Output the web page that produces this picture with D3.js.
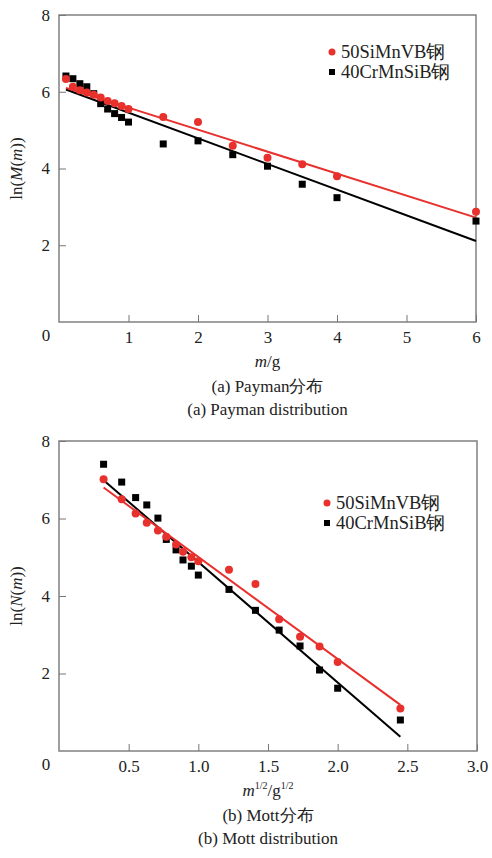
<!DOCTYPE html>
<meta charset="utf-8">
<head>
<style>
  body { margin: 0; background: #fff; }
  .axis path { display: none; }
  .axis line { stroke: #777; }
</style>
</head>
<body>
<script src="https://cdn.jsdelivr.net/npm/d3@7"></script>
<script>
// (a) Payman: mass (g) vs ln(M(m))
var massA = [0.1, 0.2, 0.3, 0.4, 0.5, 0.6, 0.7, 0.8, 0.9, 1.0, 1.5, 2.0, 2.5, 3.0, 3.5, 4.0, 6.0];
var redA = [6.33, 6.13, 6.04, 5.98, 5.92, 5.85, 5.76, 5.70, 5.63, 5.55, 5.34, 5.21, 4.59, 4.28, 4.11, 3.80, 2.87];
var blackA = [6.41, 6.34, 6.21, 6.13, 5.95, 5.69, 5.55, 5.43, 5.33, 5.21, 4.64, 4.72, 4.36, 4.06, 3.59, 3.24, 2.63];
var redFitA = [[0.1, 6.10], [6.0, 2.72]];
var blackFitA = [[0.1, 6.06], [6.0, 2.11]];

// (b) Mott: m^1/2 vs ln(N(m))
var rootB = [0.32, 0.45, 0.55, 0.63, 0.71, 0.77, 0.84, 0.89, 0.95, 1.0, 1.22, 1.41, 1.58, 1.73, 1.87, 2.0, 2.45];
var redB = [7.01, 6.50, 6.13, 5.89, 5.69, 5.53, 5.33, 5.14, 5.00, 4.90, 4.68, 4.31, 3.40, 2.95, 2.70, 2.30, 1.10];
var blackB = [7.40, 6.94, 6.54, 6.35, 6.01, 5.46, 5.19, 4.93, 4.77, 4.54, 4.17, 3.63, 3.12, 2.71, 2.09, 1.62, 0.80];
var redFitB = [[0.32, 6.80], [2.45, 1.19]];
var blackFitB = [[0.32, 6.99], [2.45, 0.37]];

var seriesNames = ["50SiMnVB钢", "40CrMnSiB钢"];
var red = "#e8302c";

var svg = d3.select("body").append("svg").attr("width", 492).attr("height", 858);

function panel(cfg) {
  var x = d3.scaleLinear().domain([0, cfg.xmax]).range([59, cfg.right]);
  var y = d3.scaleLinear().domain([0, 8]).range([cfg.bottom, cfg.top]);
  var g = svg.append("g");

  g.append("rect")
    .attr("x", x(0)).attr("y", y(8))
    .attr("width", x(cfg.xmax) - x(0)).attr("height", y(0) - y(8))
    .attr("fill", "none").attr("stroke", "#808080").attr("stroke-width", 1.5);

  g.append("g").attr("class", "axis")
    .attr("transform", "translate(0," + y(0) + ")")
    .call(d3.axisBottom(x).tickValues(cfg.xticks).tickFormat(cfg.xfmt).tickSizeInner(-7).tickSizeOuter(0).tickPadding(9));

  g.append("g").attr("class", "axis")
    .attr("transform", "translate(" + x(0) + ",0)")
    .call(d3.axisLeft(y).tickValues([2, 4, 6, 8]).tickFormat(d3.format("d")).tickSizeInner(-7).tickSizeOuter(0).tickPadding(9));

  // shared origin label
  g.append("text").attr("x", x(0) - 13).attr("y", y(0) + 19)
    .attr("text-anchor", "middle").text("0");

  var line = d3.line().x(function(d) { return x(d[0]); }).y(function(d) { return y(d[1]); });
  g.append("path").datum(cfg.blackFit).attr("d", line).attr("fill", "none").attr("stroke", "#000").attr("stroke-width", 2);
  g.append("path").datum(cfg.redFit).attr("d", line).attr("fill", "none").attr("stroke", red).attr("stroke-width", 2);

  g.selectAll("rect.sq").data(cfg.xs).enter().append("rect").attr("class", "sq")
    .attr("x", function(d) { return x(d) - 3.5; })
    .attr("y", function(d, i) { return y(cfg.black[i]) - 3.5; })
    .attr("width", 7).attr("height", 7).attr("fill", "#000");

  g.selectAll("circle.pt").data(cfg.xs).enter().append("circle").attr("class", "pt")
    .attr("cx", function(d) { return x(d); })
    .attr("cy", function(d, i) { return y(cfg.red[i]); })
    .attr("r", 4).attr("fill", red);

  // legend
  var lg = g.append("g").attr("transform", "translate(" + cfg.legX + "," + cfg.legY + ")");
  lg.append("circle").attr("cx", 0).attr("cy", 0).attr("r", 3.5).attr("fill", red);
  lg.append("rect").attr("x", -3).attr("y", 17).attr("width", 6).attr("height", 6).attr("fill", "#000");
  lg.selectAll("text.leg").data(seriesNames).enter().append("text").attr("class", "leg")
    .attr("x", 9).attr("y", function(d, i) { return 6 + i * 20; })
    .text(function(d) { return d; });

  // y title
  var yt = g.append("text")
    .attr("transform", "translate(22," + ((y(0) + y(8)) / 2) + ") rotate(-90)")
    .attr("text-anchor", "middle");
  yt.append("tspan").text("ln(");
  yt.append("tspan").attr("font-style", "italic").text(cfg.fn);
  yt.append("tspan").text("(");
  yt.append("tspan").attr("font-style", "italic").text("m");
  yt.append("tspan").text("))");

  var cx = (x(0) + x(cfg.xmax)) / 2;
  cfg.xtitle(g.append("text").attr("x", cx).attr("y", y(0) + 45).attr("text-anchor", "middle"));
  g.append("text").attr("x", cx).attr("y", y(0) + 70).attr("text-anchor", "middle").text(cfg.cap1);
  g.append("text").attr("x", cx).attr("y", y(0) + 93).attr("text-anchor", "middle").text(cfg.cap2);
}

panel({
  xmax: 6, right: 476, top: 15, bottom: 322,
  xticks: [1, 2, 3, 4, 5, 6], xfmt: d3.format("d"),
  xs: massA, red: redA, black: blackA, redFit: redFitA, blackFit: blackFitA,
  legX: 332, legY: 52, fn: "M",
  xtitle: function(t) {
    t.append("tspan").attr("font-style", "italic").text("m");
    t.append("tspan").text("/g");
  },
  cap1: "(a) Payman分布", cap2: "(a) Payman distribution"
});

panel({
  xmax: 3, right: 477, top: 441, bottom: 751,
  xticks: [0.5, 1.0, 1.5, 2.0, 2.5, 3.0], xfmt: d3.format(".1f"),
  xs: rootB, red: redB, black: blackB, redFit: redFitB, blackFit: blackFitB,
  legX: 327, legY: 503, fn: "N",
  xtitle: function(t) {
    t.append("tspan").attr("font-style", "italic").text("m");
    t.append("tspan").attr("font-size", 10).attr("dy", -7).text("1/2");
    t.append("tspan").attr("dy", 7).text("/g");
    t.append("tspan").attr("font-size", 10).attr("dy", -7).text("1/2");
  },
  cap1: "(b) Mott分布", cap2: "(b) Mott distribution"
});

// one font for all text, set inline so the axis defaults do not win
svg.selectAll("text")
  .style("font-family", "'Liberation Serif'")
  .style("font-size", function() { return d3.select(this).classed("leg") ? "18.5px" : "17px"; })
  .style("fill", "#222");
</script>
</body>
